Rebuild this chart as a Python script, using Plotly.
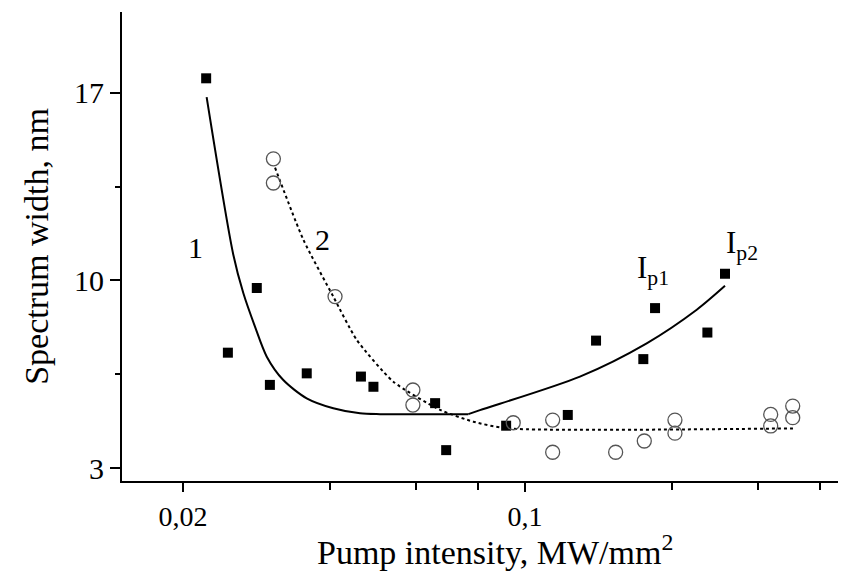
import plotly.graph_objects as go

# measured points, curve 1 (filled squares)
x_sq = [0.0223, 0.0247, 0.0283, 0.0301, 0.0358, 0.0462, 0.0490, 0.0655, 0.0690,
        0.0915, 0.1223, 0.1397, 0.1745, 0.1844, 0.2359, 0.2563]
y_sq = [17.53, 7.31, 9.72, 6.11, 6.54, 6.42, 6.04, 5.43, 3.68,
        4.59, 4.99, 7.76, 7.07, 8.97, 8.06, 10.25]

# measured points, curve 2 (open circles)
x_ci = [0.0306, 0.0306, 0.0409, 0.0590, 0.0590, 0.0946, 0.1139, 0.1139, 0.1532,
        0.1753, 0.2025, 0.2025, 0.3178, 0.3178, 0.3525, 0.3525]
y_ci = [14.53, 13.63, 9.40, 5.92, 5.36, 4.70, 4.80, 3.60, 3.60,
        4.02, 4.80, 4.31, 5.01, 4.58, 5.32, 4.89]

# fit line 1, falling branch (down to the kink) and rising branch
x_fit1a = [0.02235, 0.02534, 0.02656, 0.02806, 0.02966, 0.03206, 0.03579,
           0.04056, 0.04601, 0.05054, 0.0766]
y_fit1a = [16.83, 10.96, 9.53, 8.28, 7.16, 6.29, 5.61,
           5.24, 5.05, 5.02, 5.02]
x_fit1b = [0.0766, 0.0809, 0.1295, 0.1773, 0.2244, 0.2563]
y_fit1b = [5.02, 5.17, 6.42, 7.66, 8.91, 9.80]

# fit line 2 (dotted)
x_fit2 = [0.03084, 0.03523, 0.04056, 0.04529, 0.05381, 0.06704, 0.07839, 0.09175, 0.3529]
y_fit2 = [14.2, 11.52, 9.40, 7.79, 6.23, 5.18, 4.74, 4.49, 4.49]

font = "Liberation Serif"

fig = go.Figure()

solid = dict(color="black", width=2, shape="spline", smoothing=0.8)
fig.add_trace(go.Scatter(x=x_fit1a, y=y_fit1a, mode="lines", line=solid))
fig.add_trace(go.Scatter(x=x_fit1b, y=y_fit1b, mode="lines", line=solid))
fig.add_trace(go.Scatter(x=x_fit2, y=y_fit2, mode="lines",
                         line=dict(color="black", width=2, dash="dot", shape="spline", smoothing=0.6)))
fig.add_trace(go.Scatter(x=x_sq, y=y_sq, mode="markers",
                         marker=dict(symbol="square", size=10, color="black")))
fig.add_trace(go.Scatter(x=x_ci, y=y_ci, mode="markers",
                         marker=dict(symbol="circle-open", size=14, color="#555",
                                     line=dict(width=1.3, color="#555"))))

# labels on the curves
fig.add_annotation(x=-1.674, y=11.22, text="1", showarrow=False, font=dict(size=30))
fig.add_annotation(x=-1.413, y=11.52, text="2", showarrow=False, font=dict(size=30))
fig.add_annotation(x=-0.776, y=10.4, text="I<sub>p1</sub>", xanchor="left",
                   showarrow=False, font=dict(size=31))
fig.add_annotation(x=-0.594, y=11.33, text="I<sub>p2</sub>", xanchor="left",
                   showarrow=False, font=dict(size=31))

# x axis title, placed by hand just under the tick labels
fig.add_annotation(xref="paper", yref="paper", x=0.521, y=-0.196,
                   xanchor="center", yanchor="bottom", showarrow=False,
                   text="Pump intensity, MW/mm<sup>2</sup>", font=dict(size=34))

fig.update_layout(
    width=862, height=573,
    paper_bgcolor="white", plot_bgcolor="white",
    margin=dict(l=122, r=24, t=12, b=92),
    showlegend=False,
    font=dict(family=font, color="black", size=30),
    xaxis=dict(
        type="log", range=[-1.8237, -0.3603], automargin=False,
        tickvals=[0.02, 0.1], ticktext=["0,02", "0,1"],
        ticks="outside", ticklen=9, tickwidth=2, tickcolor="black",
        minor=dict(tickvals=[0.04, 0.06, 0.08, 0.2, 0.3, 0.4], ticks="outside",
                   ticklen=7, tickwidth=2, tickcolor="black"),
        showline=True, linewidth=2, linecolor="black", showgrid=False, zeroline=False,
        tickfont=dict(size=28),
    ),
    yaxis=dict(
        range=[2.53, 20.0], automargin=False,
        tickvals=[3, 10, 17],
        ticks="outside", ticklen=10, tickwidth=2, tickcolor="black",
        minor=dict(tickvals=[6.5, 13.5], ticks="outside", ticklen=5,
                   tickwidth=2, tickcolor="black"),
        showline=True, linewidth=2, linecolor="black", showgrid=False, zeroline=False,
        title=dict(text="Spectrum width, nm", font=dict(size=34)),
        tickfont=dict(size=30),
    ),
)

# drop the default page margin so the figure sits at the window corner
fig.write_html("out.html", config={"displayModeBar": False},
               post_script="document.body.style.margin='0';")
